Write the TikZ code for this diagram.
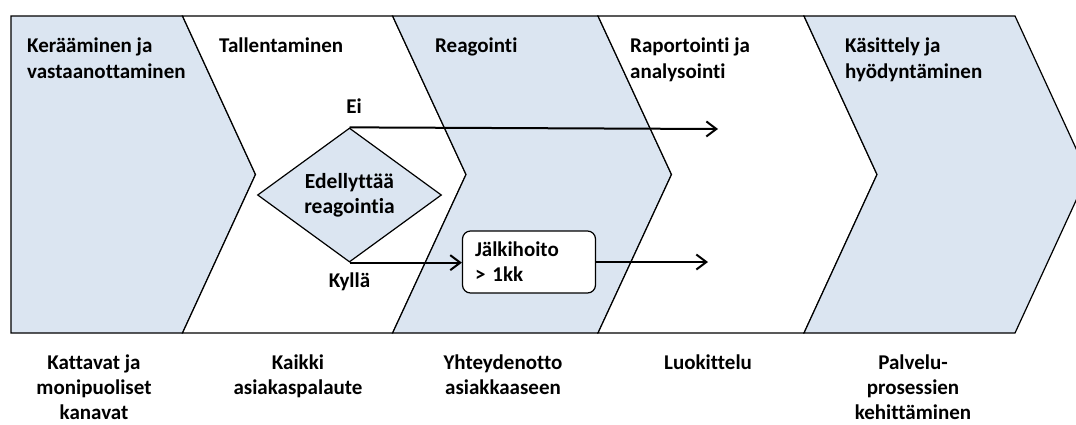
\documentclass[tikz,border=0pt]{standalone}
\usepackage{fontspec}
\setmainfont{Carlito}[Ligatures=NoCommon]
\usetikzlibrary{shapes.geometric,arrows.meta}
\definecolor{chevblue}{HTML}{DBE5F1}
\newcommand{\mlines}[2]{\begin{tabular}[t]{@{}#1@{}}#2\end{tabular}}
\begin{document}
\begin{tikzpicture}[x=1pt,y=-1pt,
 chev/.style={draw=black,line width=1.2pt,line join=miter},
 bluechev/.style={chev,fill=chevblue},
 whitechev/.style={chev,fill=white},
 head/.style={anchor=base west,inner sep=0pt,font=\fontsize{21}{26}\selectfont\bfseries},
 foot/.style={anchor=base,inner sep=0pt,font=\fontsize{21}{25}\selectfont\bfseries},
 lbl/.style={anchor=base,inner sep=0pt,font=\fontsize{21}{26}\selectfont\bfseries},
 decision/.style={diamond,draw=black,line width=1.2pt,fill=chevblue,minimum width=184pt,minimum height=132pt,inner sep=0pt,align=center,font=\fontsize{21.5}{25}\selectfont\bfseries},
 stepbox/.style={rectangle,rounded corners=8pt,draw=black,line width=1.2pt,fill=white,minimum width=133pt,minimum height=62pt,text width=108pt,inner xsep=12.5pt,inner ysep=0pt,align=left,font=\fontsize{21}{25}\selectfont\bfseries},
 flow/.style={line width=2pt,-{Straight Barb[length=10pt,width=15pt]}}
]
\useasboundingbox (0,0) rectangle (1076,424);
\clip (0,0) rectangle (1076,424);
\fill[white] (0,0) rectangle (1076,424);

% chevrons
\path[bluechev] (11,16) -- (182.5,16) -- (255.5,174.5) -- (182.5,333) -- (11,333) -- cycle;
\path[whitechev] (182.5,16) -- (392.6,16) -- (466,174.5) -- (392.6,333) -- (182.5,333) -- (255.5,174.5) -- cycle;
\path[bluechev] (392.6,16) -- (598,16) -- (671.5,174.5) -- (598,333) -- (392.6,333) -- (466,174.5) -- cycle;
\path[whitechev] (598,16) -- (804,16) -- (877,174.5) -- (804,333) -- (598,333) -- (671.5,174.5) -- cycle;
\path[bluechev] (804,16) -- (1015,16) -- (1088,174.5) -- (1015,333) -- (804,333) -- (877,174.5) -- cycle;

% headings
\node[head] (h1) at (27,52) {\mlines{l}{Kerääminen ja\\vastaanottaminen}};
\node[head] (h2) at (219,52) {Tallentaminen};
\node[head] (h3) at (435,52) {Reagointi};
\node[head] (h4) at (630,52) {\mlines{l}{Raportointi ja\\analysointi}};
\node[head] (h5) at (845,52) {\mlines{l}{Käsittely ja\\hyödyntäminen}};

% flow
\node[decision] (dec) at (349.5,195) {Edellyttää\\reagointia};
\node[lbl] (ei) at (354,113) {Ei};
\node[lbl] (kylla) at (349.5,287) {Kyllä};
\node[stepbox] (jalki) at (529,262) {Jälkihoito\\> 1kk};
\coordinate (eiend) at (718,129);
\coordinate (jend) at (708,262);
\draw[flow] (dec.north) -- (eiend);
\draw[flow] (dec.south) -- (dec.south -| jalki.west);
\draw[flow] (jalki.east) -- (jend);

% footers
\node[foot] (f1) at (94,369) {\mlines{c}{Kattavat ja\\monipuoliset\\kanavat}};
\node[foot] (f2) at (298,369) {\mlines{c}{Kaikki\\asiakaspalaute}};
\node[foot] (f3) at (503,369) {\mlines{c}{Yhteydenotto\\asiakkaaseen}};
\node[foot] (f4) at (708,369) {Luokittelu};
\node[foot] (f5) at (913,369) {\mlines{c}{Palvelu-\\prosessien\\kehittäminen}};
\end{tikzpicture}
\end{document}
